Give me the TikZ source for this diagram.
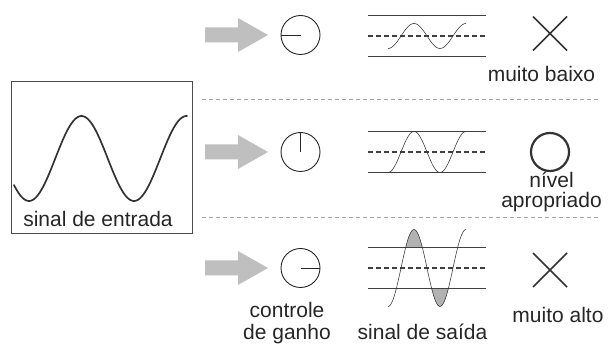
\documentclass[tikz,border=0pt]{standalone}
\usepackage{fontspec}
\setmainfont{Liberation Sans}
\begin{document}
\begin{tikzpicture}[x=1pt,y=-1pt,
  lbl/.style={font=\fontsize{21}{22}\selectfont, text=black!85, anchor=base, inner sep=0pt},
  frame/.style={draw=black!70, line width=1pt},
  rail/.style={draw=black!75, line width=1.2pt},
  midrail/.style={draw=black!75, line width=1.1pt, dash pattern=on 4.5pt off 3.5pt},
  sep/.style={draw=black!35, line width=0.9pt, dash pattern=on 4pt off 3pt},
  dial/.style={circle, draw=black!85, line width=0.9pt, minimum size=39pt, inner sep=0pt},
  hand/.style={draw=black!85, line width=0.9pt},
  trace/.style={draw=black!80, line width=0.55pt},
  clip fill/.style={fill=black!30},
  verdict/.style={draw=black!80, line width=1.6pt},
  gainarrow/.style={fill=black!25}
]
\useasboundingbox (0,0) rectangle (610,344);

% ---------- input signal ----------
\draw[frame] (11,82) rectangle (192,234);
\draw[draw=black!80, line width=1.7pt, line cap=round]
  plot[domain=14:187, samples=120, smooth] (\x, {158.5 + 42.5*cos(3.428571*(\x-29))});
\node[lbl] (inlabel) at (98,227) {sinal de entrada};

% ---------- separators ----------
\draw[sep] (202,99) -- (600,99);
\draw[sep] (202,217) -- (600,217);

% ---------- gain arrows ----------
\foreach \yy/\nm in {35/a1, 152/a2, 268/a3}{
  \coordinate (\nm) at (205,\yy);
  \fill[gainarrow] (\nm) ++(0,-7.5) -- ++(33,0) -- ++(0,-9.5) -- ++(30,17)
    -- ++(-30,17) -- ++(0,-9.5) -- ++(-33,0) -- cycle;
}

% ---------- gain dials ----------
\node[dial] (dial1) at (300.5,35) {};
\draw[hand] (dial1.center) -- (dial1.west);
\node[dial] (dial2) at (300.5,152) {};
\draw[hand] (dial2.center) -- (dial2.north);
\node[dial] (dial3) at (300.5,268) {};
\draw[hand] (dial3.center) -- (dial3.east);
\node[lbl] (gain1) at (287,318) {controle};
\node[lbl] (gain2) at (287,340) {de ganho};

% ---------- output signals ----------
% row 1: low level
\draw[rail] (368,15.5) -- (486,15.5);
\draw[midrail] (368,36) -- (486,36);
\draw[rail] (368,56.5) -- (486,56.5);
\draw[trace] plot[domain=-90:450, samples=90, smooth]
  ({388 + (\x+90)/360*52}, {36 - 12.5*sin(\x)});

% row 2: proper level
\draw[rail] (368,131.5) -- (486,131.5);
\draw[midrail] (368,152) -- (486,152);
\draw[rail] (368,172.5) -- (486,172.5);
\draw[trace] plot[domain=-90:450, samples=90, smooth]
  ({388 + (\x+90)/360*52}, {152 - 20.5*sin(\x)});

% row 3: clipped, too high
\fill[clip fill] plot[domain=32.2:147.8, samples=40, smooth]
  ({388 + (\x+90)/360*52}, {268 - 38.5*sin(\x)}) -- cycle;
\fill[clip fill] plot[domain=212.2:327.8, samples=40, smooth]
  ({388 + (\x+90)/360*52}, {268 - 38.5*sin(\x)}) -- cycle;
\draw[rail] (368,247.5) -- (486,247.5);
\draw[midrail] (368,268) -- (486,268);
\draw[rail] (368,288.5) -- (486,288.5);
\draw[trace] plot[domain=-90:450, samples=90, smooth]
  ({388 + (\x+90)/360*52}, {268 - 38.5*sin(\x)});
\node[lbl] (outlabel) at (422.5,340) {sinal de saída};

% ---------- verdicts ----------
\coordinate (v1) at (550,33.5);
\draw[verdict] (v1) ++(-17,-17) -- ++(34,34) (v1) ++(17,-17) -- ++(-34,34);
\node[lbl] (low) at (541.5,82) {muito baixo};

\node[circle, draw=black!80, line width=2.2pt, minimum size=38pt, inner sep=0pt] (v2) at (550,152) {};
\node[lbl] (ok1) at (551.5,188) {nível};
\node[lbl] (ok2) at (551.5,208) {apropriado};

\coordinate (v3) at (550,270);
\draw[verdict] (v3) ++(-17,-17) -- ++(34,34) (v3) ++(17,-17) -- ++(-34,34);
\node[lbl] (high) at (558,323) {muito alto};
\end{tikzpicture}
\end{document}
